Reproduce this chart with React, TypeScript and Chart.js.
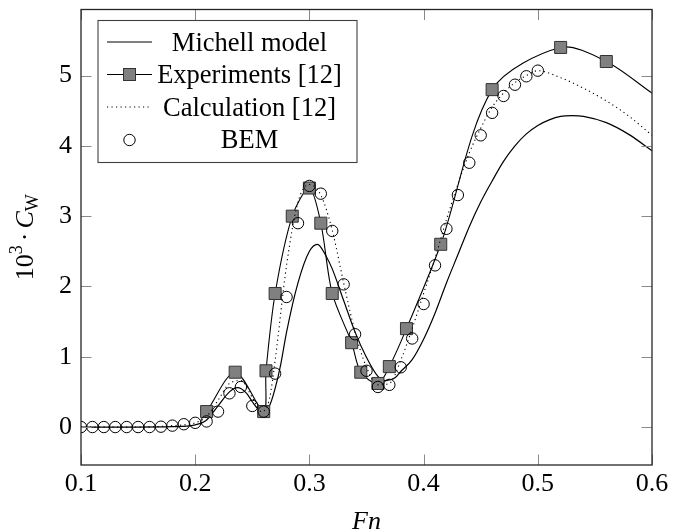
import React, { useEffect, useRef } from "react";
import { Chart, registerables } from "chart.js";

Chart.register(...registerables);

const xTicks = [0.1, 0.2, 0.3, 0.4, 0.5, 0.6];
const yTicks = [0, 1, 2, 3, 4, 5];

const michellFn = [0.10, 0.15, 0.18, 0.20, 0.21, 0.22, 0.23, 0.237, 0.245, 0.25, 0.255, 0.26, 0.265, 0.27, 0.275, 0.28, 0.29, 0.30, 0.307, 0.315, 0.32, 0.33, 0.34, 0.35, 0.36, 0.367, 0.375, 0.38, 0.39, 0.40, 0.41, 0.42, 0.43, 0.44, 0.45, 0.46, 0.47, 0.48, 0.49, 0.50, 0.51, 0.52, 0.53, 0.54, 0.56, 0.58, 0.60];
const michellCw = [0, 0, 0.005, 0.03, 0.1, 0.3, 0.5, 0.56, 0.48, 0.36, 0.26, 0.22, 0.3, 0.55, 0.9, 1.35, 2.05, 2.5, 2.6, 2.42, 2.25, 1.8, 1.35, 0.99, 0.72, 0.66, 0.7, 0.79, 0.96, 1.25, 1.62, 2.05, 2.45, 2.85, 3.2, 3.5, 3.78, 4.0, 4.17, 4.29, 4.37, 4.42, 4.43, 4.42, 4.33, 4.16, 3.93];

const expFn = [0.21, 0.235, 0.26, 0.262, 0.27, 0.285, 0.30, 0.31, 0.32, 0.337, 0.345, 0.36, 0.37, 0.385, 0.415, 0.46, 0.52, 0.56, 0.60];
const expCw = [0.22, 0.78, 0.22, 0.8, 1.9, 3.0, 3.4, 2.9, 1.9, 1.2, 0.78, 0.62, 0.86, 1.4, 2.6, 4.8, 5.4, 5.2, 4.75];
const expMarkerCount = 18;

const calcFn = [0.10, 0.15, 0.18, 0.20, 0.21, 0.22, 0.23, 0.24, 0.25, 0.258, 0.265, 0.27, 0.28, 0.29, 0.30, 0.31, 0.32, 0.33, 0.34, 0.35, 0.36, 0.37, 0.38, 0.39, 0.40, 0.41, 0.42, 0.43, 0.44, 0.45, 0.46, 0.47, 0.48, 0.49, 0.50, 0.52, 0.54, 0.56, 0.58, 0.60];
const calcCw = [0, 0, 0.02, 0.06, 0.15, 0.38, 0.62, 0.66, 0.42, 0.22, 0.4, 0.95, 2.3, 3.2, 3.45, 3.3, 2.8, 2.05, 1.35, 0.85, 0.6, 0.62, 0.95, 1.4, 1.9, 2.4, 2.95, 3.45, 3.9, 4.25, 4.55, 4.75, 4.9, 5.0, 5.07, 4.97, 4.82, 4.64, 4.42, 4.15];

const bemFn = [0.10, 0.11, 0.12, 0.13, 0.14, 0.15, 0.16, 0.17, 0.18, 0.19, 0.20, 0.21, 0.22, 0.23, 0.24, 0.25, 0.26, 0.27, 0.28, 0.29, 0.30, 0.31, 0.32, 0.33, 0.34, 0.35, 0.36, 0.37, 0.38, 0.39, 0.40, 0.41, 0.42, 0.43, 0.44, 0.45, 0.46, 0.47, 0.48, 0.49, 0.50];
const bemCw = [0, 0, 0, 0, 0, 0, 0, 0.005, 0.02, 0.04, 0.06, 0.08, 0.22, 0.48, 0.57, 0.3, 0.22, 0.76, 1.85, 2.9, 3.43, 3.32, 2.79, 2.03, 1.32, 0.8, 0.57, 0.6, 0.85, 1.26, 1.75, 2.3, 2.82, 3.3, 3.76, 4.15, 4.47, 4.71, 4.87, 4.99, 5.07];

const legendLabels = ["Michell model", "Experiments [12]", "Calculation [12]", "BEM"];
const xTitle = "Fn";

const FONT = "'Liberation Serif', 'Times New Roman', serif";
const FS = 26;
const LFS = 26.5;
const SQ_FILL = "#808080";
const SQ_EDGE = "#333333";

const pts = (xs: number[], ys: number[]) => xs.map((x, i) => ({ x, y: ys[i] }));

const decorPlugin = {
  id: "decor",
  afterDatasetsDraw(chart: any) {
    const { ctx, chartArea: a, scales } = chart;
    const xs = scales.x;
    const ys = scales.y;
    ctx.save();
    // inward ticks on all four sides
    ctx.strokeStyle = "#8a8a8a";
    ctx.lineWidth = 1;
    const TL = 10.5;
    ctx.beginPath();
    for (const t of xTicks) {
      const px = Math.round(xs.getPixelForValue(t)) + 0.5;
      ctx.moveTo(px, a.top);
      ctx.lineTo(px, a.top + TL);
      ctx.moveTo(px, a.bottom);
      ctx.lineTo(px, a.bottom - TL);
    }
    for (const t of yTicks) {
      const py = Math.round(ys.getPixelForValue(t)) + 0.5;
      ctx.moveTo(a.left, py);
      ctx.lineTo(a.left + TL, py);
      ctx.moveTo(a.right, py);
      ctx.lineTo(a.right - TL, py);
    }
    ctx.stroke();

    // frame
    ctx.strokeStyle = "#262626";
    ctx.lineWidth = 1.3;
    ctx.strokeRect(a.left, a.top, a.right - a.left, a.bottom - a.top);

    // legend
    const L = 98, T = 20.5, R = 357, B = 162.5;
    ctx.fillStyle = "#ffffff";
    ctx.fillRect(L, T, R - L, B - T);
    ctx.strokeStyle = "#404040";
    ctx.lineWidth = 1.1;
    ctx.strokeRect(L, T, R - L, B - T);
    const rowsY = [42, 74.5, 107, 140];
    const baseY = [50.5, 82.5, 115.5, 148];
    const sx0 = 107, sx1 = 152, scx = 129.5;
    ctx.strokeStyle = "#000";
    // Michell
    ctx.lineWidth = 1.1;
    ctx.beginPath();
    ctx.moveTo(sx0, rowsY[0]);
    ctx.lineTo(sx1, rowsY[0]);
    ctx.stroke();
    // Experiments
    ctx.beginPath();
    ctx.moveTo(sx0, rowsY[1]);
    ctx.lineTo(sx1, rowsY[1]);
    ctx.stroke();
    ctx.fillStyle = SQ_FILL;
    ctx.strokeStyle = SQ_EDGE;
    ctx.lineWidth = 1;
    ctx.fillRect(scx - 6, rowsY[1] - 6, 12, 12);
    ctx.strokeRect(scx - 6, rowsY[1] - 6, 12, 12);
    // Calculation dotted
    ctx.strokeStyle = "#000";
    ctx.setLineDash([1.2, 3.3]);
    ctx.beginPath();
    ctx.moveTo(sx0, rowsY[2]);
    ctx.lineTo(sx1, rowsY[2]);
    ctx.stroke();
    ctx.setLineDash([]);
    // BEM circle
    ctx.beginPath();
    ctx.arc(scx, rowsY[3], 5.7, 0, Math.PI * 2);
    ctx.stroke();
    // texts
    ctx.fillStyle = "#000";
    ctx.font = `${LFS}px ${FONT}`;
    ctx.textAlign = "center";
    ctx.textBaseline = "alphabetic";
    legendLabels.forEach((lab, i) => ctx.fillText(lab, 249.5, baseY[i]));

    // x title
    ctx.font = `italic ${FS}px ${FONT}`;
    ctx.fillText(xTitle, (a.left + a.right) / 2, 529);

    // y title: 10^3 · C_W (rotated)
    ctx.translate(33, (a.top + a.bottom) / 2);
    ctx.rotate(-Math.PI / 2);
    ctx.textAlign = "left";
    const parts = [
      { t: "10", f: `${FS}px ${FONT}`, dy: 0, gap: 0 },
      { t: "3", f: `${Math.round(FS * 0.7)}px ${FONT}`, dy: -11, gap: 0 },
      { t: "·", f: `${FS}px ${FONT}`, dy: 0, gap: 4 },
      { t: "C", f: `italic ${FS}px ${FONT}`, dy: 0, gap: 4 },
      { t: "W", f: `${Math.round(FS * 0.7)}px ${FONT}`, dy: 5, gap: 0 },
    ];
    let total = 0;
    const widths = parts.map((p) => {
      ctx.font = p.f;
      const w = ctx.measureText(p.t).width;
      total += w + p.gap;
      return w;
    });
    let cx = -total / 2;
    parts.forEach((p, i) => {
      cx += p.gap;
      ctx.font = p.f;
      ctx.fillText(p.t, cx, p.dy);
      cx += widths[i];
    });
    ctx.restore();
  },
};

export default function App() {
  const ref = useRef<HTMLCanvasElement | null>(null);
  useEffect(() => {
    if (!ref.current) return;
    const chart = new Chart(ref.current, {
      type: "line",
      data: {
        datasets: [
          {
            label: legendLabels[3],
            data: pts(bemFn, bemCw),
            showLine: false,
            pointStyle: "circle",
            pointRadius: 5.7,
            pointBorderWidth: 1,
            pointBorderColor: "#000",
            pointBackgroundColor: "rgba(0,0,0,0)",
            order: 0,
          },
          {
            label: legendLabels[2],
            data: pts(calcFn, calcCw),
            borderColor: "#000",
            borderWidth: 1.1,
            borderDash: [1.2, 3.3],
            pointRadius: 0,
            cubicInterpolationMode: "monotone",
            fill: false,
            order: 1,
          },
          {
            label: legendLabels[1],
            data: pts(expFn, expCw),
            borderColor: "#000",
            borderWidth: 1.1,
            tension: 0.3,
            pointStyle: "rect",
            pointRadius: (c: any) => (c.dataIndex < expMarkerCount ? 8.5 : 0),
            pointBorderWidth: 1,
            pointBorderColor: SQ_EDGE,
            pointBackgroundColor: SQ_FILL,
            fill: false,
            order: 2,
          },
          {
            label: legendLabels[0],
            data: pts(michellFn, michellCw),
            borderColor: "#000",
            borderWidth: 1.2,
            pointRadius: 0,
            cubicInterpolationMode: "monotone",
            fill: false,
            order: 3,
          },
        ],
      },
      options: {
        animation: false,
        responsive: false,
        devicePixelRatio: 1,
        events: [],
        layout: { padding: { top: 6, right: 34, left: 0, bottom: 0 } },
        plugins: { legend: { display: false }, tooltip: { enabled: false }, title: { display: false } },
        scales: {
          x: {
            type: "linear",
            min: 0.1,
            max: 0.6,
            afterBuildTicks: (s: any) => {
              s.ticks = xTicks.map((v) => ({ value: v }));
            },
            afterFit: (s: any) => {
              s.height = 66;
              s.paddingLeft = 0;
              s.paddingRight = 0;
            },
            ticks: {
              callback: (v: any) => Number(v).toFixed(1),
              font: { family: FONT, size: FS },
              color: "#000",
              padding: 4,
              maxRotation: 0,
              autoSkip: false,
            },
            grid: { display: false, drawTicks: false },
            border: { display: false },
          },
          y: {
            type: "linear",
            min: -0.54,
            max: 5.94,
            afterBuildTicks: (s: any) => {
              s.ticks = yTicks.map((v) => ({ value: v }));
            },
            afterFit: (s: any) => {
              s.width = 81;
              s.paddingTop = 0;
              s.paddingBottom = 0;
            },
            ticks: {
              callback: (v: any) => String(v),
              font: { family: FONT, size: FS },
              color: "#000",
              padding: 9,
              autoSkip: false,
            },
            grid: { display: false, drawTicks: false },
            border: { display: false },
          },
        },
      },
      plugins: [decorPlugin],
    } as any);
    return () => chart.destroy();
  }, []);
  return (
    <div style={{ position: "fixed", left: 0, top: 0, width: 686, height: 531, background: "#fff" }}>
      <canvas ref={ref} width={686} height={531} style={{ display: "block" }} />
    </div>
  );
}
